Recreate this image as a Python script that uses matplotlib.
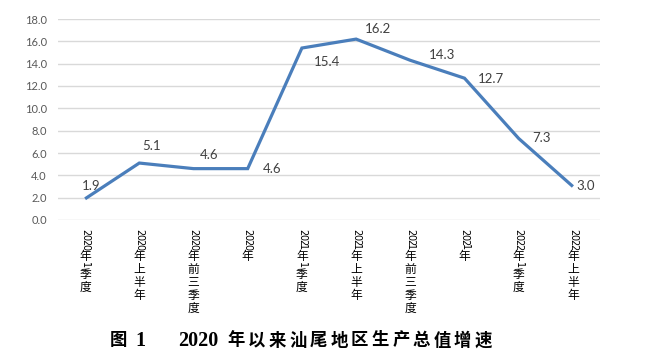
import matplotlib
matplotlib.use("Agg")
import matplotlib.pyplot as plt

CATEGORIES = ["2020年1季度", "2020年上半年", "2020年前三季度", "2020年",
              "2021年1季度", "2021年上半年", "2021年前三季度", "2021年",
              "2022年1季度", "2022年上半年"]
GROWTH = [1.9, 5.1, 4.6, 4.6, 15.4, 16.2, 14.3, 12.7, 7.3, 3.0]
Y_TICKS = [0, 2, 4, 6, 8, 10, 12, 14, 16, 18]
TITLE_FIG = "图"
TITLE_NUM = "1"
TITLE_YEAR = "2020"
TITLE_TAIL = "年以来汕尾地区生产总值增速"

# label offsets in pixels (dx, dy), Excel-like placement
LABEL_OFFSETS = [(6, 13), (12, 17), (16, 14), (24, 0), (25, -14),
                 (22, 10), (32, 5), (26, -1), (23, 0), (13, 0)]

LINE_COLOR = "#4a7ebb"
CJK = "Noto Sans CJK SC"


def main():
    fig = plt.figure(figsize=(6.52, 3.58), dpi=100)
    ax = fig.add_axes([58 / 652, 1 - 220 / 358, 542 / 652, 201 / 358])

    xs = list(range(len(CATEGORIES)))
    ax.plot(xs, GROWTH, color=LINE_COLOR, lw=2.3, solid_joinstyle="miter",
            solid_capstyle="butt", zorder=3)

    ax.set_xlim(-0.5, len(CATEGORIES) - 0.5)
    ax.set_ylim(0, 18)
    ax.set_yticks(Y_TICKS)
    ax.set_yticklabels([f"{v:.1f}" for v in Y_TICKS], family="Lato",
                       fontsize=8, color="#595959")
    ax.tick_params(axis="y", length=0, pad=8)
    ax.set_xticks([])
    ax.grid(axis="y", color="#d9d9d9", lw=1)
    ax.set_axisbelow(True)
    for s in ax.spines.values():
        s.set_visible(False)

    # data labels
    for x, v, (dx, dy) in zip(xs, GROWTH, LABEL_OFFSETS):
        ax.annotate(f"{v:.1f}", xy=(x, v), xytext=(dx, dy),
                    textcoords="offset pixels", ha="center", va="center",
                    family="Lato", fontsize=9.5, color="#404040")

    # stacked vertical category labels
    for x, lab in zip(xs, CATEGORIES):
        y = 10
        for ch in lab:
            if ch.isascii():
                y += 2.5
                ax.annotate(ch, xy=(x, 0), xycoords=("data", "axes fraction"),
                            xytext=(0, -y), textcoords="offset pixels",
                            ha="center", va="center", rotation=-90,
                            family="DejaVu Sans", fontsize=7, color="#000000")
                y += 2.5
            else:
                y += 6.5
                ax.annotate(ch, xy=(x, 0), xycoords=("data", "axes fraction"),
                            xytext=(0, -y), textcoords="offset pixels",
                            ha="center", va="center",
                            family=CJK, fontsize=8.5, color="#000000")
                y += 6.5

    # caption
    ty = 1 - 341 / 358
    fam = ["Liberation Serif", CJK]
    fig.text(118.5 / 652, ty, TITLE_FIG, ha="center", va="center",
             family=fam, fontsize=12.5, fontweight="bold")
    fig.text(135 / 652, ty, TITLE_NUM, ha="left", va="center",
             family=fam, fontsize=14.5, fontweight="bold")
    fig.text(178 / 652, ty, TITLE_YEAR, ha="left", va="center",
             family=fam, fontsize=14.5, fontweight="bold")
    for i, ch in enumerate(TITLE_TAIL):
        fig.text((236 + 20.6 * i) / 652, ty, ch, ha="center", va="center",
                 family=fam, fontsize=12.5, fontweight="bold")

    fig.savefig("out.png", dpi=100)


if __name__ == "__main__":
    main()
